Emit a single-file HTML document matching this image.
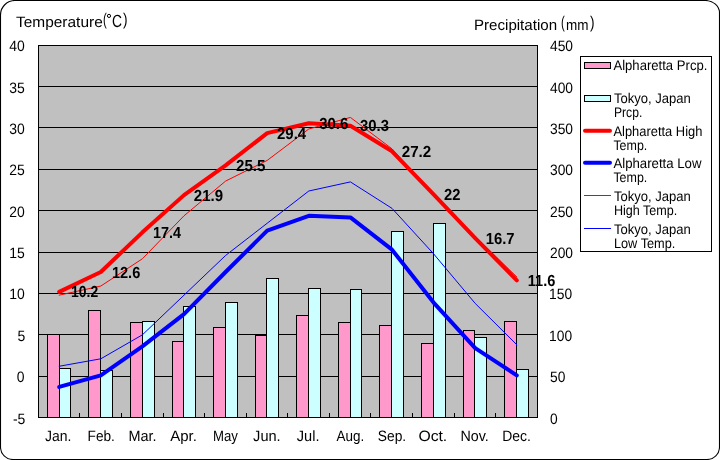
<!DOCTYPE html><html><head><meta charset="utf-8"><style>html,body{margin:0;padding:0;background:#fff;overflow:hidden}svg{display:block;will-change:transform}text{font-family:"Liberation Sans",sans-serif;fill:#000;text-rendering:geometricPrecision}</style></head><body>
<svg width="720" height="460" viewBox="0 0 720 460">
<path d="M15,0.5 H705.5 A14,12.5 0 0 1 719.5,13 V447 A12.5,12.5 0 0 1 707,459.5 H13 A12.5,12.5 0 0 1 0.5,447 V15 A14.5,14.5 0 0 1 15,0.5 Z" fill="#fff" stroke="#000" stroke-width="1.1"/>
<g shape-rendering="crispEdges">
<rect x="38" y="45" width="500" height="373" fill="#c0c0c0"/>
<rect x="38" y="86" width="500" height="1" fill="#000"/>
<rect x="38" y="127" width="500" height="1" fill="#000"/>
<rect x="38" y="169" width="500" height="1" fill="#000"/>
<rect x="38" y="210" width="500" height="1" fill="#000"/>
<rect x="38" y="252" width="500" height="1" fill="#000"/>
<rect x="38" y="293" width="500" height="1" fill="#000"/>
<rect x="38" y="334" width="500" height="1" fill="#000"/>
<rect x="38" y="376" width="500" height="1" fill="#000"/>
<rect x="47" y="334" width="13" height="84" fill="#000"/>
<rect x="48" y="335" width="11" height="82" fill="#ff99cc"/>
<rect x="59" y="368" width="12" height="50" fill="#000"/>
<rect x="60" y="369" width="10" height="48" fill="#ccffff"/>
<rect x="88" y="310" width="13" height="108" fill="#000"/>
<rect x="89" y="311" width="11" height="106" fill="#ff99cc"/>
<rect x="100" y="370" width="13" height="48" fill="#000"/>
<rect x="101" y="371" width="11" height="46" fill="#ccffff"/>
<rect x="130" y="322" width="13" height="96" fill="#000"/>
<rect x="131" y="323" width="11" height="94" fill="#ff99cc"/>
<rect x="142" y="321" width="13" height="97" fill="#000"/>
<rect x="143" y="322" width="11" height="95" fill="#ccffff"/>
<rect x="172" y="341" width="12" height="77" fill="#000"/>
<rect x="173" y="342" width="10" height="75" fill="#ff99cc"/>
<rect x="183" y="306" width="13" height="112" fill="#000"/>
<rect x="184" y="307" width="11" height="110" fill="#ccffff"/>
<rect x="213" y="327" width="13" height="91" fill="#000"/>
<rect x="214" y="328" width="11" height="89" fill="#ff99cc"/>
<rect x="225" y="302" width="13" height="116" fill="#000"/>
<rect x="226" y="303" width="11" height="114" fill="#ccffff"/>
<rect x="255" y="335" width="12" height="83" fill="#000"/>
<rect x="256" y="336" width="10" height="81" fill="#ff99cc"/>
<rect x="266" y="278" width="13" height="140" fill="#000"/>
<rect x="267" y="279" width="11" height="138" fill="#ccffff"/>
<rect x="296" y="315" width="13" height="103" fill="#000"/>
<rect x="297" y="316" width="11" height="101" fill="#ff99cc"/>
<rect x="308" y="288" width="13" height="130" fill="#000"/>
<rect x="309" y="289" width="11" height="128" fill="#ccffff"/>
<rect x="338" y="322" width="13" height="96" fill="#000"/>
<rect x="339" y="323" width="11" height="94" fill="#ff99cc"/>
<rect x="350" y="289" width="12" height="129" fill="#000"/>
<rect x="351" y="290" width="10" height="127" fill="#ccffff"/>
<rect x="379" y="325" width="13" height="93" fill="#000"/>
<rect x="380" y="326" width="11" height="91" fill="#ff99cc"/>
<rect x="391" y="231" width="13" height="187" fill="#000"/>
<rect x="392" y="232" width="11" height="185" fill="#ccffff"/>
<rect x="421" y="343" width="13" height="75" fill="#000"/>
<rect x="422" y="344" width="11" height="73" fill="#ff99cc"/>
<rect x="433" y="223" width="13" height="195" fill="#000"/>
<rect x="434" y="224" width="11" height="193" fill="#ccffff"/>
<rect x="463" y="330" width="12" height="88" fill="#000"/>
<rect x="464" y="331" width="10" height="86" fill="#ff99cc"/>
<rect x="474" y="337" width="13" height="81" fill="#000"/>
<rect x="475" y="338" width="11" height="79" fill="#ccffff"/>
<rect x="504" y="321" width="13" height="97" fill="#000"/>
<rect x="505" y="322" width="11" height="95" fill="#ff99cc"/>
<rect x="516" y="369" width="13" height="49" fill="#000"/>
<rect x="517" y="370" width="11" height="47" fill="#ccffff"/>
<rect x="79" y="413" width="1" height="4" fill="#000"/>
<rect x="121" y="413" width="1" height="4" fill="#000"/>
<rect x="163" y="413" width="1" height="4" fill="#000"/>
<rect x="204" y="413" width="1" height="4" fill="#000"/>
<rect x="246" y="413" width="1" height="4" fill="#000"/>
<rect x="287" y="413" width="1" height="4" fill="#000"/>
<rect x="329" y="413" width="1" height="4" fill="#000"/>
<rect x="370" y="413" width="1" height="4" fill="#000"/>
<rect x="412" y="413" width="1" height="4" fill="#000"/>
<rect x="454" y="413" width="1" height="4" fill="#000"/>
<rect x="495" y="413" width="1" height="4" fill="#000"/>
<rect x="38" y="45" width="500" height="1" fill="#000"/>
<rect x="38" y="417" width="500" height="1" fill="#000"/>
<rect x="38" y="45" width="1" height="373" fill="#000"/>
<rect x="537" y="45" width="1" height="373" fill="#000"/>
</g>
<polyline points="59.20,291.85 100.80,272.01 142.40,232.33 184.00,195.13 225.60,165.37 267.20,133.13 308.80,123.21 350.40,125.69 392.00,151.32 433.60,194.30 475.20,238.12 516.80,280.28" fill="none" stroke="#ff0000" stroke-width="4" stroke-linejoin="round" stroke-linecap="round"/>
<polyline points="59.20,386.92 100.80,375.34 142.40,346.41 184.00,314.17 225.60,272.01 267.20,230.68 308.80,215.80 350.40,217.45 392.00,249.69 433.60,302.60 475.20,348.06 516.80,375.34" fill="none" stroke="#0000ff" stroke-width="4" stroke-linejoin="round" stroke-linecap="round"/>
<polyline points="59.20,295.16 100.80,286.06 142.40,258.78 184.00,215.80 225.60,181.08 267.20,160.41 308.80,129.00 350.40,117.42 392.00,148.84 433.60,195.13 475.20,236.46 516.80,276.97" fill="none" stroke="#ff0000" stroke-width="1" stroke-linejoin="round" stroke-linecap="round"/>
<polyline points="59.20,366.25 100.80,358.81 142.40,334.84 184.00,295.16 225.60,255.48 267.20,223.24 308.80,191.00 350.40,181.90 392.00,208.36 433.60,253.82 475.20,303.42 516.80,344.76" fill="none" stroke="#0000ff" stroke-width="1" stroke-linejoin="round" stroke-linecap="round"/>
<g shape-rendering="crispEdges">
<rect x="580" y="56" width="132" height="196" fill="#000"/>
<rect x="581" y="57" width="130" height="194" fill="#fff"/>
<rect x="584" y="62" width="27" height="7" fill="#000"/><rect x="585" y="63" width="25" height="5" fill="#ff99cc"/>
<rect x="584" y="95" width="27" height="7" fill="#000"/><rect x="585" y="96" width="25" height="5" fill="#ccffff"/>
<rect x="584" y="195" width="27" height="1" fill="#ff0000"/>
<rect x="584" y="228" width="27" height="1" fill="#0000ff"/>
</g>
<circle cx="109" cy="15.9" r="1.6" fill="none" stroke="#000" stroke-width="1"/>
<line x1="585" y1="130.8" x2="610" y2="130.8" stroke="#ff0000" stroke-width="4" stroke-linecap="round"/>
<line x1="585" y1="162.8" x2="610" y2="162.8" stroke="#0000ff" stroke-width="4" stroke-linecap="round"/>
<text transform="translate(16.00,27) scale(1.030,1)" font-size="15">Temperature</text>
<text transform="translate(103.00,25) scale(0.667,1)" font-size="17">(</text>
<text transform="translate(112.00,27) scale(0.792,1)" font-size="17.5">C</text>
<text transform="translate(123.00,25) scale(0.800,1)" font-size="17">)</text>
<text transform="translate(474.00,30) scale(1.006,1)" font-size="15">Precipitation</text>
<text transform="translate(561.00,28) scale(0.667,1)" font-size="17">(</text>
<text transform="translate(566.00,30) scale(0.900,1)" font-size="15">mm</text>
<text transform="translate(590.00,28) scale(0.800,1)" font-size="17">)</text>
<text transform="translate(9.19,51) scale(0.930,1)" font-size="15">40</text>
<text transform="translate(550.00,51) scale(0.920,1)" font-size="15">450</text>
<text transform="translate(9.19,93) scale(0.930,1)" font-size="15">35</text>
<text transform="translate(550.00,93) scale(0.920,1)" font-size="15">400</text>
<text transform="translate(9.19,134) scale(0.930,1)" font-size="15">30</text>
<text transform="translate(550.00,134) scale(0.920,1)" font-size="15">350</text>
<text transform="translate(9.19,175) scale(0.930,1)" font-size="15">25</text>
<text transform="translate(550.00,175) scale(0.920,1)" font-size="15">300</text>
<text transform="translate(9.19,217) scale(0.930,1)" font-size="15">20</text>
<text transform="translate(550.00,217) scale(0.920,1)" font-size="15">250</text>
<text transform="translate(9.19,258) scale(0.930,1)" font-size="15">15</text>
<text transform="translate(550.00,258) scale(0.920,1)" font-size="15">200</text>
<text transform="translate(9.19,299) scale(0.930,1)" font-size="15">10</text>
<text transform="translate(549.08,299) scale(0.920,1)" font-size="15">150</text>
<text transform="translate(17.56,341) scale(0.930,1)" font-size="15">5</text>
<text transform="translate(549.08,341) scale(0.920,1)" font-size="15">100</text>
<text transform="translate(16.63,382) scale(0.930,1)" font-size="15">0</text>
<text transform="translate(550.00,382) scale(0.920,1)" font-size="15">50</text>
<text transform="translate(12.91,424) scale(0.930,1)" font-size="15">-5</text>
<text transform="translate(550.00,424) scale(0.920,1)" font-size="15">0</text>
<text transform="translate(45.00,441) scale(0.929,1)" font-size="15">Jan.</text>
<text transform="translate(87.60,441) scale(0.910,1)" font-size="15">Feb.</text>
<text transform="translate(128.40,441) scale(0.964,1)" font-size="15">Mar.</text>
<text transform="translate(170.20,441) scale(1.000,1)" font-size="15">Apr.</text>
<text transform="translate(213.00,441) scale(0.879,1)" font-size="15">May</text>
<text transform="translate(253.10,441) scale(0.971,1)" font-size="15">Jun.</text>
<text transform="translate(296.80,441) scale(0.974,1)" font-size="15">Jul.</text>
<text transform="translate(336.50,441) scale(0.897,1)" font-size="15">Aug.</text>
<text transform="translate(377.80,441) scale(0.920,1)" font-size="15">Sep.</text>
<text transform="translate(418.40,441) scale(1.048,1)" font-size="15">Oct.</text>
<text transform="translate(460.40,441) scale(0.952,1)" font-size="15">Nov.</text>
<text transform="translate(502.20,441) scale(0.930,1)" font-size="15">Dec.</text>
<text transform="translate(71.00,297) scale(0.900,1.03)" font-size="15.5" font-weight="bold">10.2</text>
<text transform="translate(111.90,278) scale(0.940,1.03)" font-size="15.5" font-weight="bold">12.6</text>
<text transform="translate(153.00,238) scale(0.932,1.03)" font-size="15.5" font-weight="bold">17.4</text>
<text transform="translate(193.75,201) scale(0.972,1.03)" font-size="15.5" font-weight="bold">21.9</text>
<text transform="translate(236.00,171) scale(0.977,1.03)" font-size="15.5" font-weight="bold">25.5</text>
<text transform="translate(277.00,139) scale(0.968,1.03)" font-size="15.5" font-weight="bold">29.4</text>
<text transform="translate(319.20,129) scale(0.963,1.03)" font-size="15.5" font-weight="bold">30.6</text>
<text transform="translate(360.00,131) scale(0.963,1.03)" font-size="15.5" font-weight="bold">30.3</text>
<text transform="translate(401.70,157) scale(0.980,1.03)" font-size="15.5" font-weight="bold">27.2</text>
<text transform="translate(444.00,200) scale(0.953,1.03)" font-size="15.5" font-weight="bold">22</text>
<text transform="translate(485.70,244) scale(0.957,1.03)" font-size="15.5" font-weight="bold">16.7</text>
<text transform="translate(527.80,286) scale(0.940,1.03)" font-size="15.5" font-weight="bold">11.6</text>
<text transform="translate(613.40,70) scale(0.936,1)" font-size="14">Alpharetta Prcp.</text>
<text transform="translate(613.90,103) scale(0.933,1)" font-size="14">Tokyo, Japan</text>
<text transform="translate(613.90,117) scale(0.869,1)" font-size="14">Prcp.</text>
<text transform="translate(613.40,136) scale(0.922,1)" font-size="14">Alpharetta High</text>
<text transform="translate(613.40,150) scale(0.889,1)" font-size="14">Temp.</text>
<text transform="translate(613.40,168) scale(0.943,1)" font-size="14">Alpharetta Low</text>
<text transform="translate(613.40,182) scale(0.889,1)" font-size="14">Temp.</text>
<text transform="translate(613.90,201) scale(0.933,1)" font-size="14">Tokyo, Japan</text>
<text transform="translate(613.90,215) scale(0.899,1)" font-size="14">High Temp.</text>
<text transform="translate(613.90,234) scale(0.933,1)" font-size="14">Tokyo, Japan</text>
<text transform="translate(613.90,248) scale(0.912,1)" font-size="14">Low Temp.</text>
</svg></body></html>
